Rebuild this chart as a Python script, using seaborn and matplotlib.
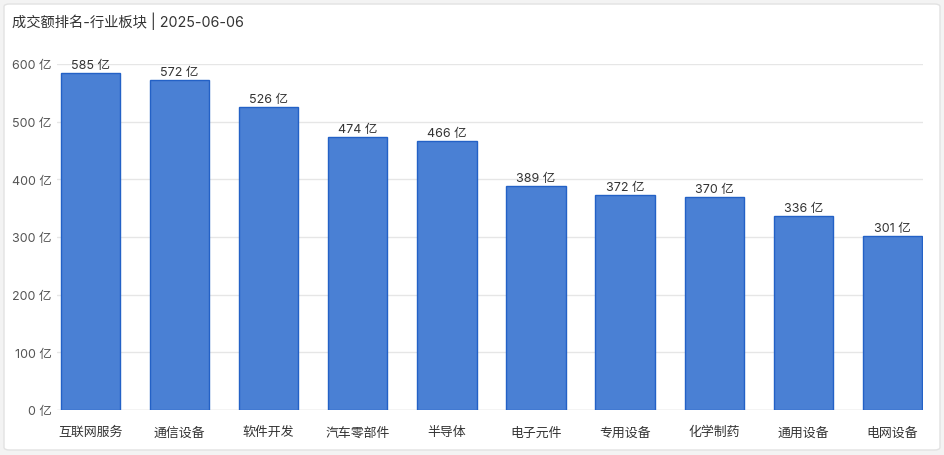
import matplotlib
matplotlib.use("Agg")
import matplotlib.pyplot as plt
from matplotlib.patches import FancyBboxPatch
import seaborn as sns
import pandas as pd

categories = ["互联网服务", "通信设备", "软件开发", "汽车零部件", "半导体",
              "电子元件", "专用设备", "化学制药", "通用设备", "电网设备"]
values = [585, 572, 526, 474, 466, 389, 372, 370, 336, 301]
yticks = [0, 100, 200, 300, 400, 500, 600]
title = "成交额排名-行业板块 | 2025-06-06"

sns.set_theme(style="white")
plt.rcParams['font.family'] = ['Inter', 'Noto Sans CJK SC', 'DejaVu Sans']

W, H = 944, 456
fig = plt.figure(figsize=(W / 100, H / 100), dpi=100)
fig.patch.set_facecolor("#f3f3f3")
card = FancyBboxPatch((4 / W, 5 / H), 936 / W, 446 / H,
                      boxstyle="round,pad=0,rounding_size=0.006",
                      transform=fig.transFigure, facecolor="white",
                      edgecolor="#e2e2e2", linewidth=1, zorder=-10)
fig.patches.append(card)

ax = fig.add_axes([57 / W, 45 / H, (923 - 57) / W, (411 - 65) / H])
ax.set_zorder(2)
ax.set_facecolor("none")

df = pd.DataFrame({"cat": categories, "val": values})
sns.barplot(data=df, x="cat", y="val", ax=ax, color="#4a80d4", saturation=1,
            width=0.665, edgecolor="#2361c6", linewidth=1, zorder=3)

ax.set_xlim(-0.376, 9.343)
ax.set_ylim(0, 600)
ax.set_yticks(yticks)
ax.set_yticklabels([f"{v} 亿" for v in yticks], color="#555555", fontsize=9)
ax.tick_params(axis="x", colors="#333333", labelsize=9.3, length=0, pad=16)
for lab in ax.get_xticklabels():
    lab.set_verticalalignment("center")
ax.tick_params(axis="y", length=0, pad=4)
ax.grid(axis="y", color="#e6e6e6", linewidth=1, zorder=0)
ax.set_axisbelow(True)
for s in ax.spines.values():
    s.set_visible(False)
ax.axhline(0, color="#dddddd", linewidth=1, zorder=2)
ax.set_xlabel("")
ax.set_ylabel("")

for i, v in enumerate(values):
    ax.annotate(f"{v} 亿", (i, v), xytext=(0, 1.5), textcoords="offset points",
                ha="center", va="bottom", fontsize=9, color="#333333", zorder=4)

fig.text(12 / W, 1 - 21 / H, title, fontsize=10.3, color="#333333",
         ha="left", va="center", zorder=5)

fig.savefig("out.png", dpi=100)
